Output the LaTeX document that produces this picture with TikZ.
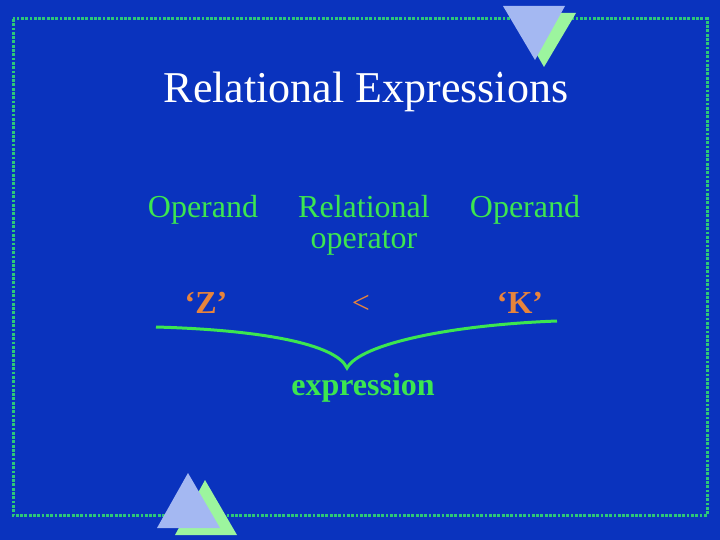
\documentclass[tikz,border=0pt]{standalone}
\usepackage{fontspec}
\setmainfont{Liberation Serif}
\usetikzlibrary{positioning}
\definecolor{fondoAzul}{HTML}{0A33BE}
\definecolor{verdeTexto}{HTML}{3CE650}
\definecolor{verdeMarco}{HTML}{2DC878}
\definecolor{naranjaVal}{HTML}{E8843C}
\definecolor{azulTri}{HTML}{A4B8F2}
\definecolor{verdeTri}{HTML}{9CF59E}

\begin{document}
\begin{tikzpicture}[x=1pt, y=-1pt,
    titulo/.style={text=white, font=\fontsize{44}{48}\selectfont, inner sep=0pt, anchor=base},
    etiq/.style={text=verdeTexto, font=\fontsize{32}{31}\selectfont, align=center, inner sep=0pt, anchor=base},
    valor/.style={text=naranjaVal, font=\fontsize{32}{34}\selectfont\bfseries, inner sep=0pt, anchor=base},
    expr/.style={text=verdeTexto, font=\fontsize{32}{34}\selectfont\bfseries, inner sep=0pt, anchor=base},
    marco/.style={draw=verdeMarco, line width=3pt, dash pattern=on 2.8pt off 1.5pt},
    llave/.style={draw=verdeTexto, line width=3pt}
  ]
  % Fondo y marco
  \useasboundingbox (0,0) rectangle (720,540);
  \fill[fondoAzul] (0,0) rectangle (720,540);
  \draw[marco] (13,19) rectangle (707,515);

  % Triangulos decorativos
  \fill[verdeTri] (513,13) -- (576,13) -- (544,67) -- cycle;
  \fill[azulTri] (503,6) -- (565,6) -- (535,60) -- cycle;
  \fill[white] (500,73) circle (1.6);
  \fill[verdeTri] (205,480) -- (237,535) -- (175,535) -- cycle;
  \fill[azulTri] (188,473) -- (220,528) -- (157,528) -- cycle;

  % Titulo
  \node[titulo] (tit) at (366,103) {Relational Expressions};

  % Encabezados
  \node[etiq] (opIzq) at (203,218) {Operand};
  \node[etiq] (opRel) at (364,248) {Relational\\operator};
  \node[etiq] (opDer) at (525,218) {Operand};

  % Valores
  \node[valor] (valZ) at (206,313) {‘Z’};
  \node[etiq, text=naranjaVal] (menor) at (361,313) {<};
  \node[valor] (valK) at (520,313) {‘K’};

  % Llave y expresion
  \coordinate (izq) at (156,327);
  \coordinate (punta) at (347,368);
  \coordinate (der) at (557,321);
  \draw[llave] (izq) .. controls (262,330) and (336,344) .. (punta)
    .. controls (360,344) and (450,325) .. (der);
  \node[expr] (expre) at (363,395) {expression};
\end{tikzpicture}
\end{document}
